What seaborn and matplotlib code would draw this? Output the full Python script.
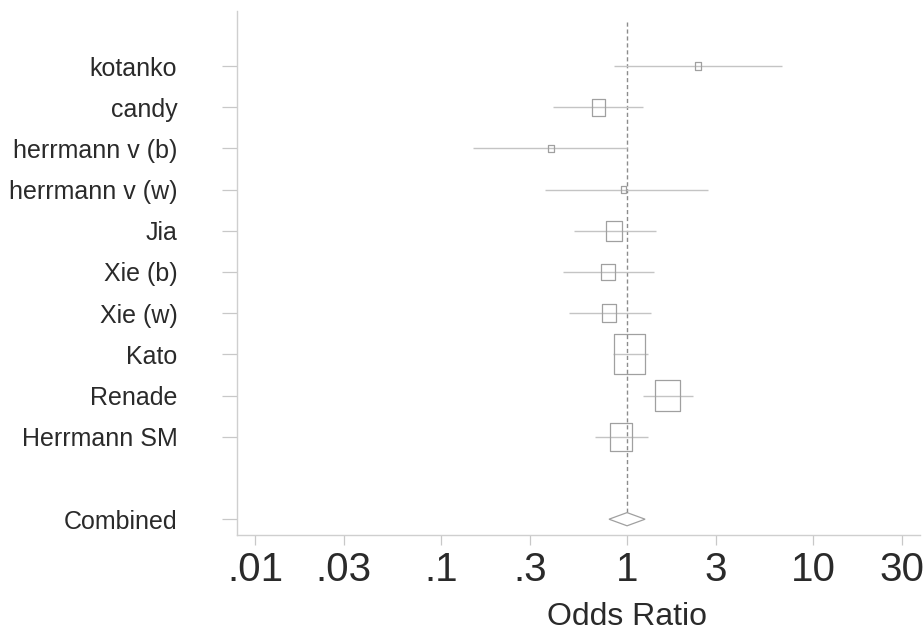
import numpy as np
import pandas as pd
import matplotlib
matplotlib.use("Agg")
import matplotlib.pyplot as plt
from matplotlib.path import Path
import seaborn as sns

# ---- data ----
studies = ["kotanko", "candy", "herrmann v (b)", "herrmann v (w)", "Jia",
           "Xie (b)", "Xie (w)", "Kato", "Renade", "Herrmann SM"]
odds_ratio = [2.42, 0.70, 0.39, 0.96, 0.85, 0.79, 0.80, 1.03, 1.65, 0.93]
ci_low = [0.85, 0.40, 0.149, 0.36, 0.52, 0.45, 0.49, 0.84, 1.22, 0.67]
ci_high = [6.8, 1.22, 1.00, 2.74, 1.43, 1.40, 1.35, 1.30, 2.27, 1.30]
weights = [1.2, 5.8, 0.9, 0.9, 8.8, 5.8, 6.8, 33.2, 19.9, 16.7]

combined_label = "Combined"
combined_or = 1.00
combined_low = 0.80
combined_high = 1.25

tick_values = [0.01, 0.03, 0.1, 0.3, 1, 3, 10, 30]
tick_labels = [".01", ".03", ".1", ".3", "1", "3", "10", "30"]
x_label = "Odds Ratio"

# ---- build table ----
df = pd.DataFrame({
    "study": studies,
    "or": odds_ratio,
    "lo": ci_low,
    "hi": ci_high,
    "weight": weights,
})
df["row"] = np.arange(len(df), dtype=float)
comb_row = len(df) + 1.0

sns.set_theme(style="white")
plt.rcParams["font.family"] = ["Liberation Sans", "DejaVu Sans"]

fig = plt.figure(figsize=(9.23, 6.34), dpi=100)
ax = fig.add_axes([237 / 923, 1 - 535 / 634, (920 - 237) / 923, (535 - 11) / 634])

line_col = "#c4c4c4"
box_col = "#a0a0a0"
text_col = "#2a2a2a"

# confidence intervals
ax.hlines(df["row"], df["lo"], df["hi"], color=line_col, linewidth=1.0, zorder=2)

# reference line at OR = 1
ax.vlines(1, -1.07, comb_row - 0.16, colors="#8c8c8c", linestyles=(0, (3, 2)),
          linewidth=1.0, zorder=1)

# boxes (rectangles slightly taller than wide), area proportional to weight
rect = Path([(-0.39, -0.5), (0.39, -0.5), (0.39, 0.5), (-0.39, 0.5), (-0.39, -0.5)],
            [Path.MOVETO, Path.LINETO, Path.LINETO, Path.LINETO, Path.CLOSEPOLY])
k = 6.94 * 0.72  # points of box height per sqrt(weight)
wmin, wmax = min(weights), max(weights)
sns.scatterplot(data=df, x="or", y="row", size="weight",
                sizes=(k * k * wmin, k * k * wmax), size_norm=(wmin, wmax),
                marker=rect, facecolor="none", edgecolor=box_col,
                linewidth=0.9, legend=False, ax=ax, zorder=3)

# combined diamond
dh = 0.16
ax.fill([combined_low, combined_or, combined_high, combined_or],
        [comb_row, comb_row - dh, comb_row, comb_row + dh],
        facecolor="white", edgecolor=box_col, linewidth=0.9, zorder=3)

ax.set_xscale("log")
xmin, xmax = 10 ** -2.097, 10 ** 1.575
ax.set_xlim(xmin, xmax)
ax.set_ylim((535 - 66) / 41.2, (11 - 66) / 41.2)

ax.set_xticks(tick_values)
ax.set_xticklabels(tick_labels)
ax.xaxis.set_minor_locator(matplotlib.ticker.NullLocator())
ax.set_yticks(list(df["row"]) + [comb_row])
ax.set_yticklabels(studies + [combined_label])

ax.tick_params(axis="y", which="major", left=True, length=11, width=0.9,
               color="#c8c8c8", pad=32, labelsize=18, labelcolor=text_col)
ax.tick_params(axis="x", which="major", bottom=True, length=7, width=0.9,
               color="#c8c8c8", pad=4.5, labelsize=29, labelcolor=text_col)

ax.set_xlabel(x_label, fontsize=23, color=text_col, labelpad=0)
# centre the axis title under OR = 1, as in the original
frac1 = (np.log10(1) - np.log10(xmin)) / (np.log10(xmax) - np.log10(xmin))
ax.xaxis.set_label_coords(frac1, -0.128)
ax.set_ylabel("")

for s in ["top", "right"]:
    ax.spines[s].set_visible(False)
for s in ["left", "bottom"]:
    ax.spines[s].set_color("#cfcfcf")
    ax.spines[s].set_linewidth(1.0)

fig.savefig("out.png", dpi=100)
